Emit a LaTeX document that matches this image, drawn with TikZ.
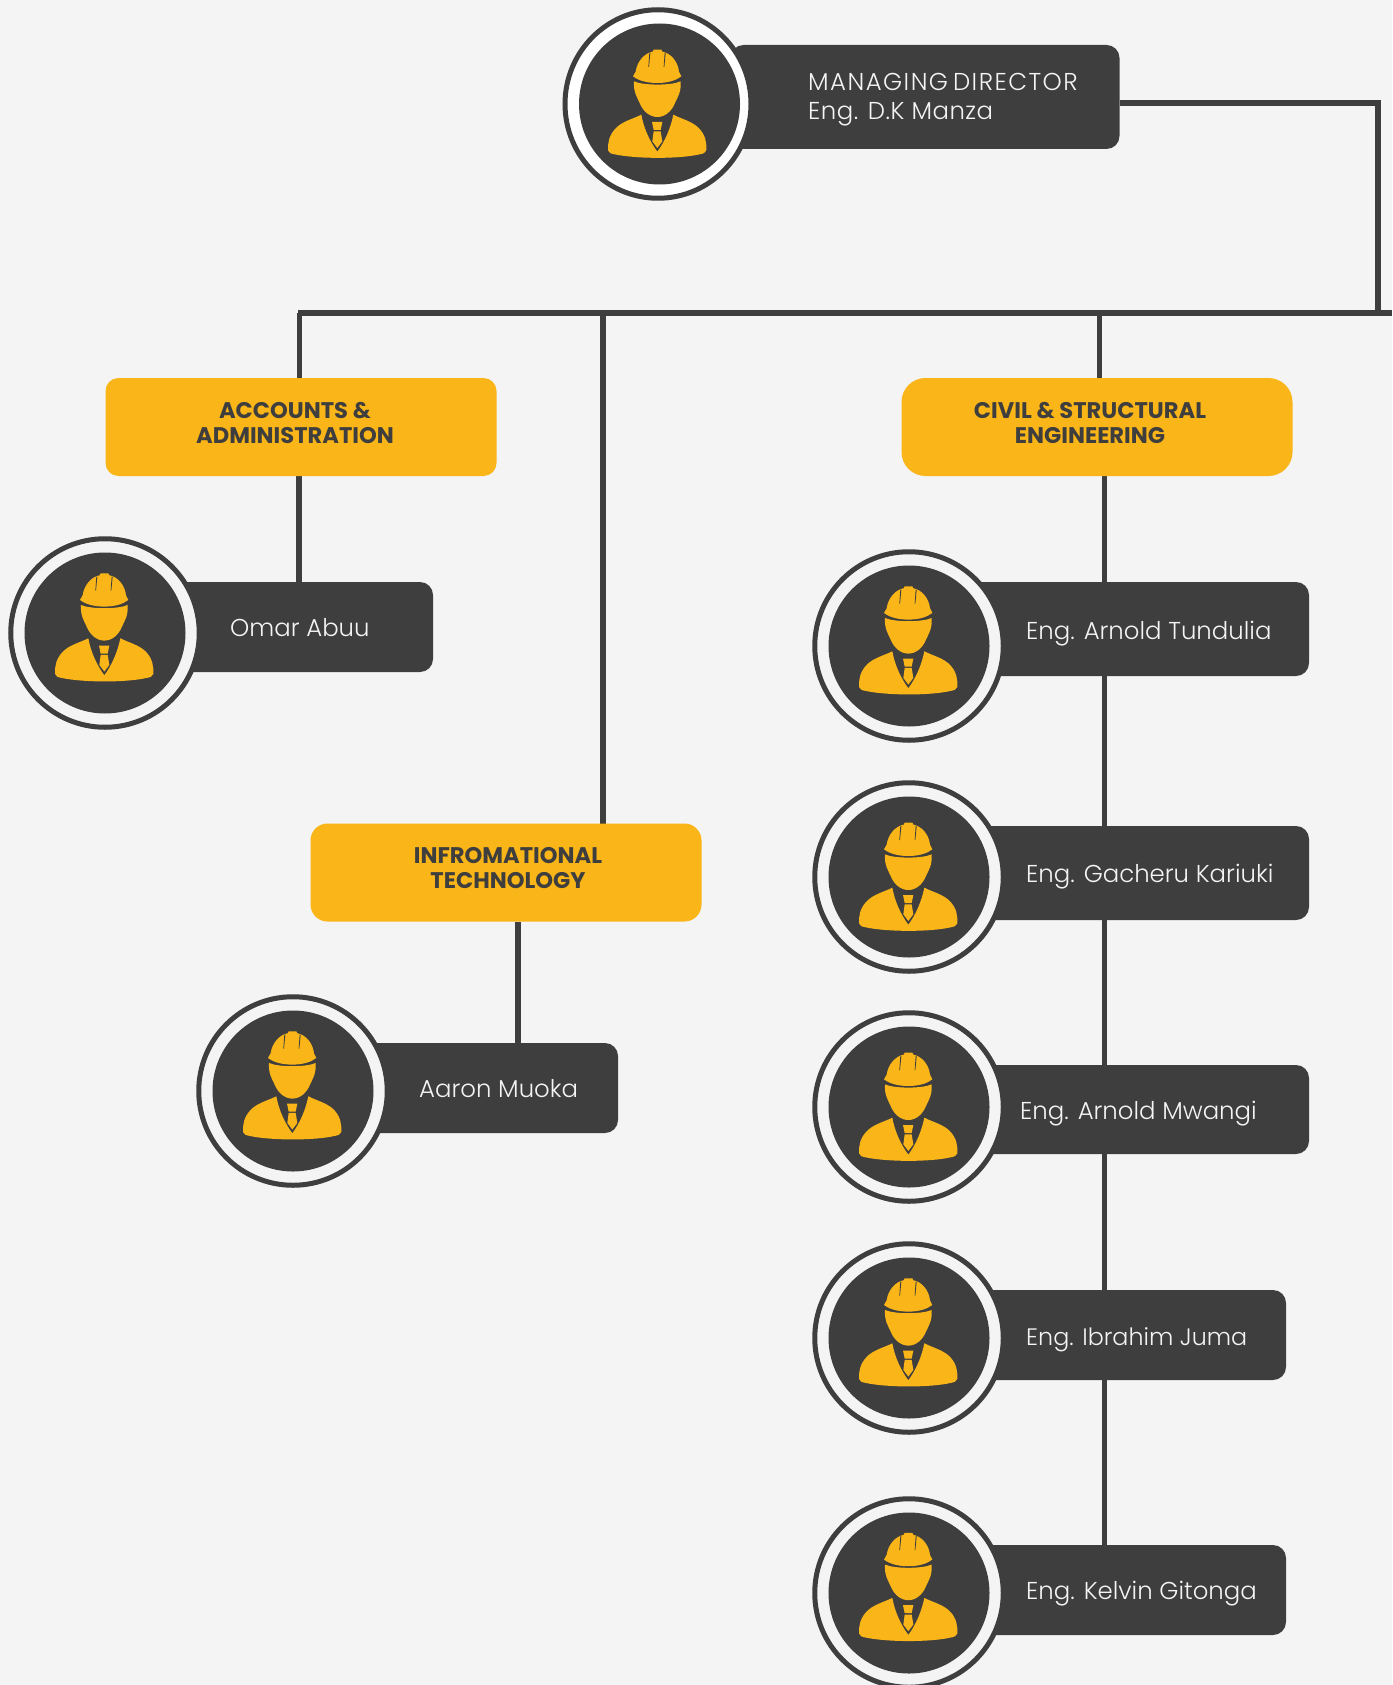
\documentclass[tikz,border=0pt]{standalone}
\usepackage{fontspec}
\setmainfont{Poppins}
\newfontfamily\lightfont{Poppins Light}
\usetikzlibrary{backgrounds,shapes.geometric}
\definecolor{darkc}{HTML}{3E3E3E}
\definecolor{orangec}{HTML}{FAB518}
\definecolor{pagec}{HTML}{F4F4F4}
\tikzset{
  darkbox/.style={fill=darkc,rounded corners=13pt,inner sep=0pt,outer sep=0pt},
  orangebox/.style={fill=orangec,inner sep=0pt,outer sep=0pt,minimum width=391pt,minimum height=98pt},
  ringdisc/.style={circle,draw=darkc,line width=5pt,fill=pagec,minimum size=188.5pt,inner sep=0pt,outer sep=0pt},
  mdring/.style={ellipse,draw=darkc,line width=5pt,fill=white,minimum width=186pt,minimum height=188.5pt,inner sep=0pt,outer sep=0pt},
  innerdisc/.style={circle,fill=darkc,minimum size=161pt,inner sep=0pt,outer sep=0pt},
  name label/.style={text=pagec,font=\lightfont\fontsize{24.4}{29}\selectfont,anchor=west,inner sep=0pt,align=left},
  dept label/.style={text=darkc,font=\bfseries\fontsize{22.6}{25}\selectfont,align=center,inner sep=0pt},
  wire/.style={draw=darkc,line width=5.3pt}
}
\newcommand{\workericon}[2]{%
  \begin{scope}[shift={(#1,#2)},scale=1/3,shift={(-325,-313)}]
    % helmet
    \fill[orangec] (250,230) .. controls (254,222) and (256,220) .. (258,216)
      .. controls (262,185) and (285,160) .. (309,156) -- (312,150) -- (335,150) -- (338,156)
      .. controls (362,160) and (385,185) .. (388,216)
      .. controls (391,222) and (393,224) .. (395,230)
      .. controls (380,242) and (355,250) .. (323,250)
      .. controls (290,250) and (265,242) .. (250,230) -- cycle;
    \fill[darkc] (299,160) -- (302,160) -- (298,202) -- (296,202) -- cycle;
    \fill[darkc] (345,160) -- (348,160) -- (344,202) -- (342,202) -- cycle;
    % face
    \fill[orangec] (253,245) .. controls (280,258) and (366,258) .. (393,245)
      .. controls (395,278) and (384,292) .. (376,310)
      .. controls (366,335) and (346,352) .. (323,352)
      .. controls (300,352) and (280,335) .. (270,310)
      .. controls (262,292) and (251,278) .. (253,245) -- cycle;
    % body
    \fill[orangec] (275,345) .. controls (282,385) and (300,425) .. (323,456)
      .. controls (346,425) and (363,385) .. (371,345)
      .. controls (395,358) and (430,365) .. (450,388)
      .. controls (468,408) and (471,430) .. (470,452)
      .. controls (468,460) and (460,462) .. (450,464)
      .. controls (390,478) and (260,478) .. (195,464)
      .. controls (185,462) and (176,460) .. (175,452)
      .. controls (174,430) and (178,408) .. (196,388)
      .. controls (216,365) and (250,358) .. (275,345) -- cycle;
    % tie
    \fill[orangec] (307,367) -- (338,367) -- (333,391) -- (312,391) -- cycle;
    \fill[orangec] (312,395) -- (333,395) -- (338,425) -- (323,445) -- (308,425) -- cycle;
  \end{scope}
}
% [icon dy]{cx}{cy}{name}
\newcommand{\worker}[4][0]{%
  \node[ringdisc] (#4ring) at (#2,#3) {};
  \node[innerdisc] (#4disc) at (#2,#3) {};
  \workericon{#2}{#3+#1}
}
\begin{document}
\begin{tikzpicture}[x=1pt,y=-1pt]
\useasboundingbox (0,0) rectangle (1392,1685);
\begin{scope}[on background layer]
  \fill[pagec] (0,0) rectangle (1392,1685);
\end{scope}

% boxes
\node[darkbox,minimum width=389pt,minimum height=104pt] (md) at (925,97) {};
\node[darkbox,minimum width=269pt,minimum height=90pt] (omar) at (298.5,627) {};
\node[darkbox,minimum width=266pt,minimum height=90pt] (aaron) at (485,1088) {};
\node[darkbox,minimum width=340pt,minimum height=94pt] (tund) at (1139,629) {};
\node[darkbox,minimum width=340pt,minimum height=94pt] (gach) at (1139,873) {};
\node[darkbox,minimum width=340pt,minimum height=89pt] (mwan) at (1139,1109.5) {};
\node[darkbox,minimum width=317pt,minimum height=90pt] (ibra) at (1127.5,1335) {};
\node[darkbox,minimum width=317pt,minimum height=90pt] (kelv) at (1127.5,1590) {};
\node[orangebox,rounded corners=13pt] (acct) at (301,427) {};
\node[orangebox,rounded corners=24pt] (civil) at (1097,427) {};
\node[orangebox,rounded corners=17pt] (info) at (506,872.5) {};

% connectors
\coordinate (corner) at (1378,103);
\coordinate (barL) at (298,313);
\coordinate (barR) at (1392,313);
\coordinate (drop) at (1378,311);
\coordinate (tapA) at (299.5,313);
\coordinate (tapI) at (603,313);
\coordinate (tapC) at (1099.5,313);
\coordinate (chain) at (1104.5,0);
\coordinate (acctx) at (299,0);
\coordinate (infox) at (518,0);
\begin{scope}[on background layer]
  \draw[wire] (md.east |- corner) -- (corner) -- (drop);
  \draw[wire] (barL) -- (barR);
  \draw[wire] (tapA) -- (tapA |- acct.north);
  \draw[wire] (tapI) -- (tapI |- info.north);
  \draw[wire] (tapC) -- (tapC |- civil.north);
  \draw[wire] (acctx |- acct.south) -- (acctx |- omar.north);
  \draw[wire] (infox |- info.south) -- (infox |- aaron.north);
  \draw[wire] (chain |- civil.south) -- (chain |- tund.north);
  \draw[wire] (chain |- tund.south) -- (chain |- gach.north);
  \draw[wire] (chain |- gach.south) -- (chain |- mwan.north);
  \draw[wire] (chain |- mwan.south) -- (chain |- ibra.north);
  \draw[wire] (chain |- ibra.south) -- (chain |- kelv.north);
\end{scope}

% portraits
\node[mdring] (mring) at (658,104) {};
\node[innerdisc] (mdisc) at (659.5,104) {};
\workericon{658}{104}
\worker[-5.4]{105}{633}{o}
\worker[-5.4]{293}{1091}{a}
\worker[-5.4]{909}{646}{t}
\worker{909}{877}{g}
\worker{909}{1107}{w}
\worker[-5.4]{909}{1338}{i}
\worker[-5.8]{909}{1593}{k}

% labels
\node[name label] (mdt) at (808,100) {{\addfontfeature{LetterSpace=6}MANAGING}\kern5pt{\addfontfeature{LetterSpace=6}DIRECTOR}\\{\addfontfeature{LetterSpace=2}Eng. D.K Manza}};
\node[name label] (omart) at (230,628) {Omar Abuu};
\node[name label] (aaront) at (419,1089) {Aaron Muoka};
\node[name label] (tundt) at (1026,634) {Eng. Arnold Tundulia};
\node[name label] (gacht) at (1026,877) {Eng. Gacheru Kariuki};
\node[name label] (mwant) at (1020,1114) {Eng. Arnold Mwangi};
\node[name label,font=\lightfont\fontsize{23.8}{29}\selectfont] (ibrat) at (1026,1340) {Eng. Ibrahim Juma};
\node[name label] (kelvt) at (1026,1594) {Eng. Kelvin Gitonga};
\node[dept label] (acctt) at (295,423) {ACCOUNTS \&\\ADMINISTRATION};
\node[dept label] (civilt) at (1090,423) {CIVIL \& STRUCTURAL\\ENGINEERING};
\node[dept label] (infot) at (508,868) {INFROMATIONAL\\TECHNOLOGY};
\end{tikzpicture}
\end{document}
